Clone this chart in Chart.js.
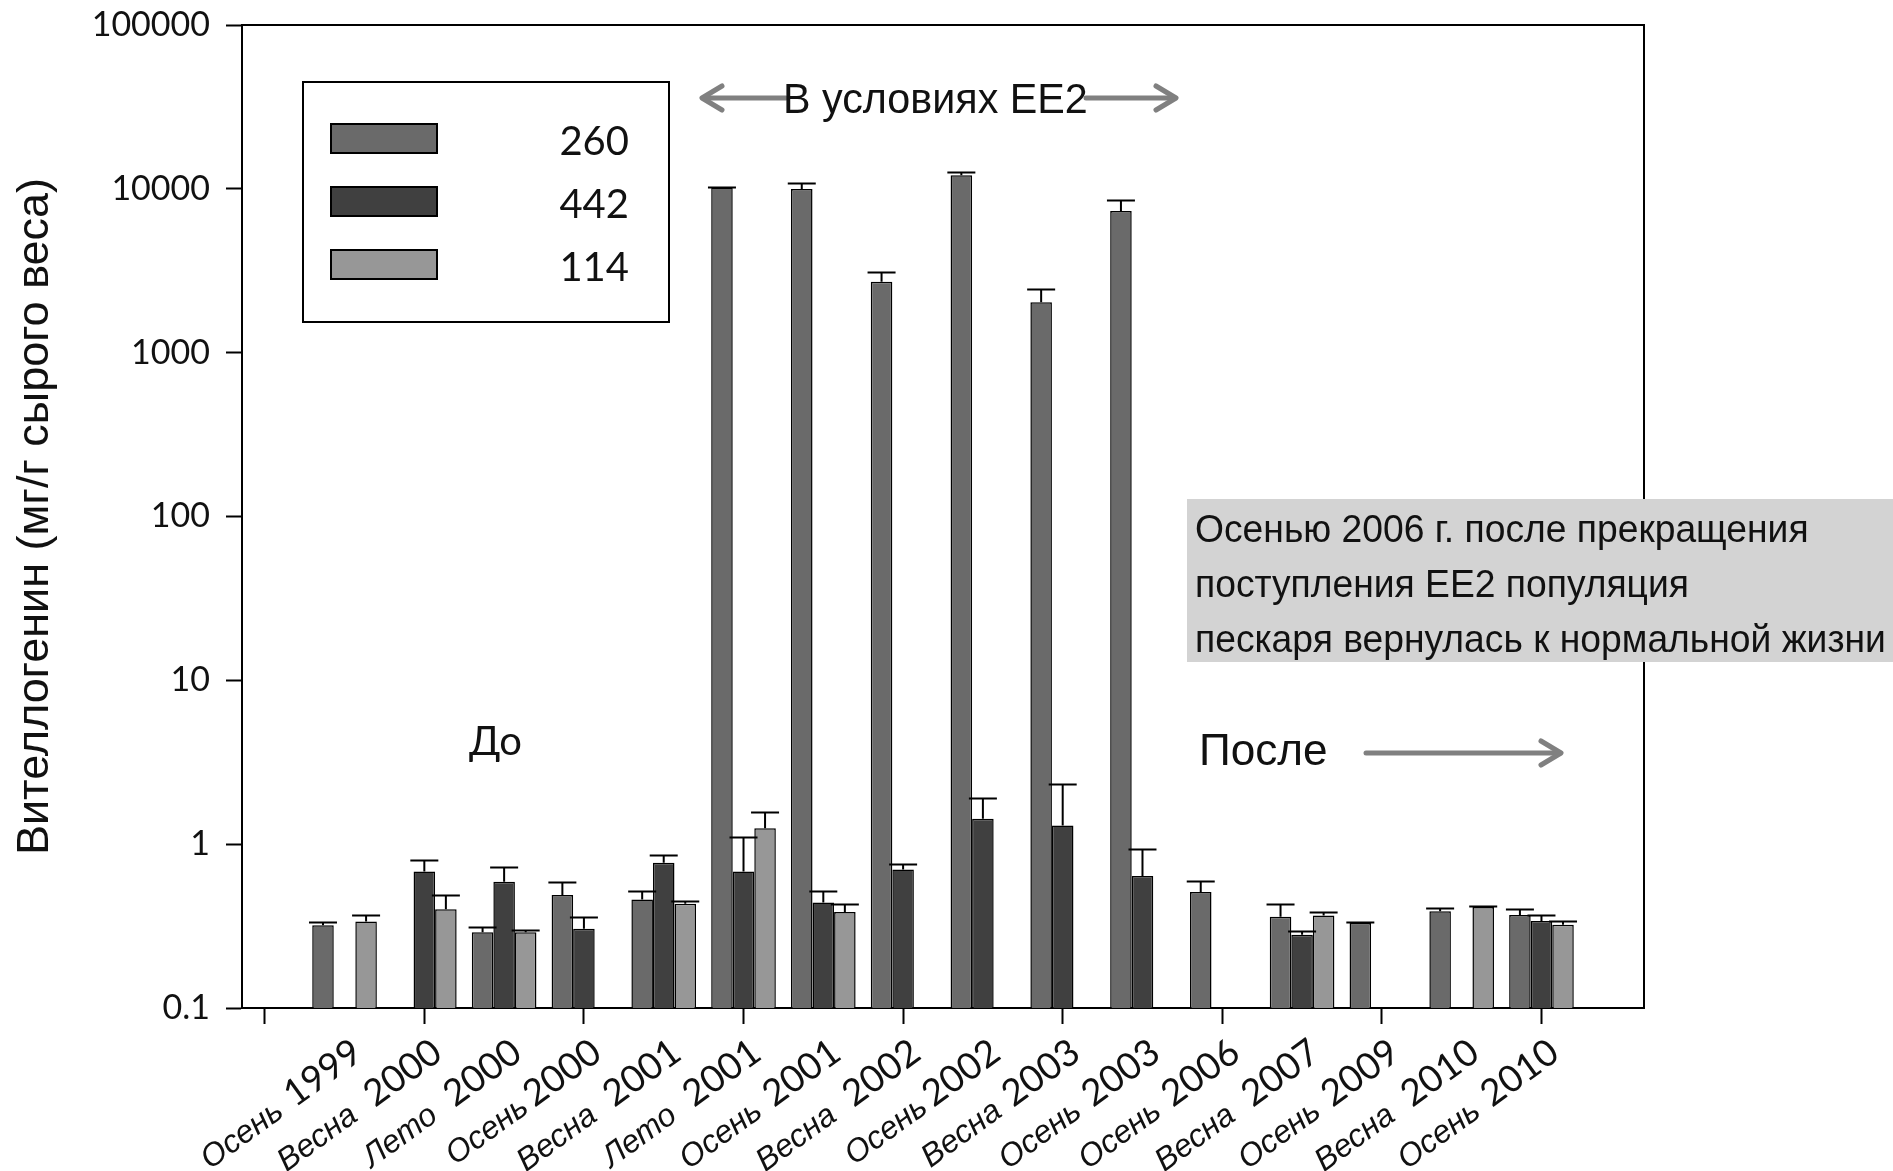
<!DOCTYPE html>
<html>
<head>
<meta charset="utf-8">
<script src="https://cdn.jsdelivr.net/npm/chart.js@4.4.1/dist/chart.umd.min.js"></script>
<style>
  html, body { margin: 0; padding: 0; background: #fff; }
  #wrap { width: 1893px; height: 1171px; }
</style>
</head>
<body>
<div id="wrap"><canvas id="chart" width="1893" height="1171"></canvas></div>
<script>
// Sampling campaigns (season + year)
const categories = ['Осень 1999', 'Весна  2000', 'Лето  2000', 'Осень2000', 'Весна  2001', 'Лето  2001',
  'Осень 2001', 'Весна  2002', 'Осень2002', 'Весна 2003', 'Осень 2003', 'Осень 2006',
  'Весна  2007', 'Осень 2009', 'Весна  2010', 'Осень 2010'];

const seriesNames = ['260', '442', '114'];

// Mean vitellogenin per campaign and the upper error (SE)
const values260 = [0.32, null, 0.29, 0.49, 0.46, 10200, 9970, 2710, 12100, 2030, 7320, 0.51, 0.36, 0.33, 0.39, 0.37];
const errors260 = [0.017, null, 0.022, 0.10, 0.06, 60, 930, 385, 600, 405, 1230, 0.085, 0.07, 0.007, 0.018, 0.03];

const values442 = [null, 0.68, 0.59, 0.305, 0.77, 0.68, 0.44, 0.70, 1.43, 1.30, 0.64, null, 0.28, null, null, 0.34];
const errors442 = [null, 0.115, 0.14, 0.052, 0.09, 0.42, 0.08, 0.054, 0.48, 1.03, 0.29, null, 0.016, null, null, 0.031];

const values114 = [0.337, 0.40, 0.29, null, 0.433, 1.25, 0.385, null, null, null, null, null, 0.367, null, 0.413, 0.322];
const errors114 = [0.03, 0.09, 0.008, null, 0.02, 0.33, 0.046, null, null, null, null, null, 0.02, null, 0.007, 0.019];

const yTickValues = [0.1, 1, 10, 100, 1000, 10000, 100000];
const yTickLabels = ['0.1', '1', '10', '100', '1000', '10000', '100000'];
const xTickValues = [0, 2, 4, 6, 8, 10, 12, 14, 16];

const toPoints = vals => vals.map((v, i) => ({ x: i + 1, y: v }));

// Plot frame (top and right edges)
const framePlugin = {
  id: 'frame',
  afterDatasetsDraw(chart) {
    const { ctx, chartArea: a } = chart;
    ctx.save();
    ctx.strokeStyle = '#000';
    ctx.lineWidth = 2;
    ctx.beginPath();
    ctx.moveTo(a.left, a.top);
    ctx.lineTo(a.right, a.top);
    ctx.lineTo(a.right, a.bottom);
    ctx.stroke();
    ctx.restore();
  }
};

// Upper error bars with caps
const errorBarPlugin = {
  id: 'errorBars',
  afterDatasetsDraw(chart) {
    const { ctx } = chart;
    const yScale = chart.scales.y;
    ctx.save();
    ctx.strokeStyle = '#000';
    ctx.lineWidth = 2;
    chart.data.datasets.forEach((ds, di) => {
      const meta = chart.getDatasetMeta(di);
      meta.data.forEach((bar, j) => {
        const v = ds.data[j].y;
        const e = ds.errors[j];
        if (v == null || e == null) return;
        const yTop = Math.round(yScale.getPixelForValue(v + e)) + 0.5;
        const half = 14;
        ctx.beginPath();
        ctx.moveTo(bar.x, bar.y);
        ctx.lineTo(bar.x, yTop);
        ctx.moveTo(bar.x - half, yTop);
        ctx.lineTo(bar.x + half, yTop);
        ctx.stroke();
      });
    });
    ctx.restore();
  }
};

// Category labels: italic season word followed by the year
const categoryLabelPlugin = {
  id: 'categoryLabels',
  afterDraw(chart) {
    const { ctx } = chart;
    const xs = chart.scales.x;
    ctx.save();
    ctx.fillStyle = '#111';
    categories.forEach((label, i) => {
      const m = label.match(/^(\D+?)(\s*)(\d+)$/);
      const season = m[1], gap = m[2].length, year = m[3];
      const x = xs.getPixelForValue(i + 1) + 13;
      const y = xs.top + 40;
      ctx.save();
      ctx.translate(x, y);
      ctx.rotate(-36 * Math.PI / 180);
      ctx.textAlign = 'right';
      ctx.textBaseline = 'middle';
      ctx.font = '37px Lato';
      ctx.fillText(year, 0, 0);
      const w = ctx.measureText(year).width;
      ctx.font = 'italic 32px "Liberation Sans"';
      ctx.fillText(season, -w - 5 - gap * 7, 3);
      ctx.restore();
    });
    ctx.restore();
  }
};

// Legend box inside the plot
const legendPlugin = {
  id: 'boxLegend',
  afterDraw(chart) {
    const { ctx } = chart;
    ctx.save();
    ctx.fillStyle = '#fff';
    ctx.fillRect(303, 82, 366, 240);
    ctx.strokeStyle = '#000';
    ctx.lineWidth = 2;
    ctx.strokeRect(303, 82, 366, 240);
    const rows = [124, 187, 250];
    chart.data.datasets.forEach((ds, i) => {
      ctx.fillStyle = ds.backgroundColor;
      ctx.fillRect(331, rows[i], 106, 29);
      ctx.lineWidth = 2;
      ctx.strokeStyle = '#000';
      ctx.strokeRect(331, rows[i], 106, 29);
      ctx.fillStyle = '#111';
      ctx.font = '40px Lato';
      ctx.textAlign = 'right';
      ctx.textBaseline = 'middle';
      ctx.fillText(ds.label, 629, rows[i] + 18);
    });
    ctx.restore();
  }
};

function arrowHead(ctx, x, y, dir) {
  ctx.beginPath();
  ctx.moveTo(x - dir * 20, y - 12);
  ctx.lineTo(x, y);
  ctx.lineTo(x - dir * 20, y + 12);
  ctx.stroke();
}

// Text squeezed slightly along x, as in the narrow annotation face
function narrowText(ctx, text, x, y, sx) {
  ctx.save();
  ctx.translate(x, y);
  ctx.scale(sx, 1);
  ctx.fillText(text, 0, 0);
  ctx.restore();
}

// Period annotations
const notesPlugin = {
  id: 'notes',
  afterDraw(chart) {
    const { ctx } = chart;
    ctx.save();
    ctx.strokeStyle = '#808080';
    ctx.lineWidth = 5;
    ctx.lineCap = 'round';
    ctx.lineJoin = 'round';
    // exposure period arrows
    ctx.beginPath(); ctx.moveTo(786, 98); ctx.lineTo(703, 98); ctx.stroke();
    arrowHead(ctx, 702, 98, -1);
    ctx.beginPath(); ctx.moveTo(1086, 98); ctx.lineTo(1175, 98); ctx.stroke();
    arrowHead(ctx, 1176, 98, 1);
    // after arrow
    ctx.beginPath(); ctx.moveTo(1366, 753); ctx.lineTo(1560, 753); ctx.stroke();
    arrowHead(ctx, 1561, 753, 1);

    ctx.fillStyle = '#111';
    ctx.textAlign = 'left';
    ctx.textBaseline = 'alphabetic';
    ctx.font = '43px "Liberation Sans"';
    narrowText(ctx, 'В условиях EE2', 783, 113, 0.96);
    ctx.font = '45px "Liberation Sans"';
    narrowText(ctx, 'После', 1199, 765, 0.98);
    ctx.font = '40px Lato';
    ctx.fillText('До', 469, 755);

    // note box
    ctx.fillStyle = '#d3d3d3';
    ctx.fillRect(1187, 499, 706, 163);
    ctx.fillStyle = '#111';
    ctx.font = '39px "Liberation Sans"';
    narrowText(ctx, 'Осенью 2006 г. после прекращения', 1195, 542, 0.955);
    narrowText(ctx, 'поступления EE2 популяция', 1195, 597, 0.955);
    narrowText(ctx, 'пескаря вернулась к нормальной жизни', 1195, 652, 0.955);
    ctx.restore();
  }
};

const chart = new Chart(document.getElementById('chart'), {
  type: 'bar',
  data: {
    datasets: [
      { label: seriesNames[0], data: toPoints(values260), errors: errors260, backgroundColor: '#6a6a6a' },
      { label: seriesNames[1], data: toPoints(values442), errors: errors442, backgroundColor: '#404040' },
      { label: seriesNames[2], data: toPoints(values114), errors: errors114, backgroundColor: '#979797' }
    ]
  },
  options: {
    responsive: false,
    animation: false,
    events: [],
    layout: { padding: { top: 25, right: 249, bottom: 0, left: 0 } },
    datasets: {
      bar: {
        categoryPercentage: 0.81,
        barPercentage: 1,
        borderColor: '#000',
        borderWidth: 1.5
      }
    },
    plugins: {
      legend: { display: false },
      tooltip: { enabled: false }
    },
    scales: {
      x: {
        type: 'linear',
        min: -0.285,
        max: 17.285,
        offset: false,
        afterBuildTicks: s => { s.ticks = xTickValues.map(v => ({ value: v })); },
        afterFit: s => { s.height = 163; s.paddingLeft = 0; s.paddingRight = 0; },
        ticks: { display: false },
        grid: { offset: false, drawOnChartArea: false, drawTicks: true, tickLength: 16, tickWidth: 2, tickColor: '#000' },
        border: { display: true, color: '#000', width: 2 }
      },
      y: {
        type: 'logarithmic',
        min: 0.1,
        max: 100000,
        afterBuildTicks: s => { s.ticks = yTickValues.map(v => ({ value: v })); },
        afterFit: s => { s.width = 242; s.paddingTop = 0; s.paddingBottom = 0; },
        ticks: {
          autoSkip: false,
          padding: 16,
          color: '#111',
          font: { family: 'Lato', size: 34 },
          callback: (v, i) => yTickLabels[i]
        },
        grid: { drawOnChartArea: false, drawTicks: true, tickLength: 16, tickWidth: 2, tickColor: '#000' },
        border: { display: true, color: '#000', width: 2 },
        title: {
          display: true,
          text: 'Вителлогенин (мг/г сырого веса)',
          color: '#111',
          font: { family: 'Liberation Sans', size: 45 },
          padding: { top: 9, bottom: 0 }
        }
      }
    }
  },
  plugins: [framePlugin, errorBarPlugin, categoryLabelPlugin, legendPlugin, notesPlugin]
});
</script>
</body>
</html>
